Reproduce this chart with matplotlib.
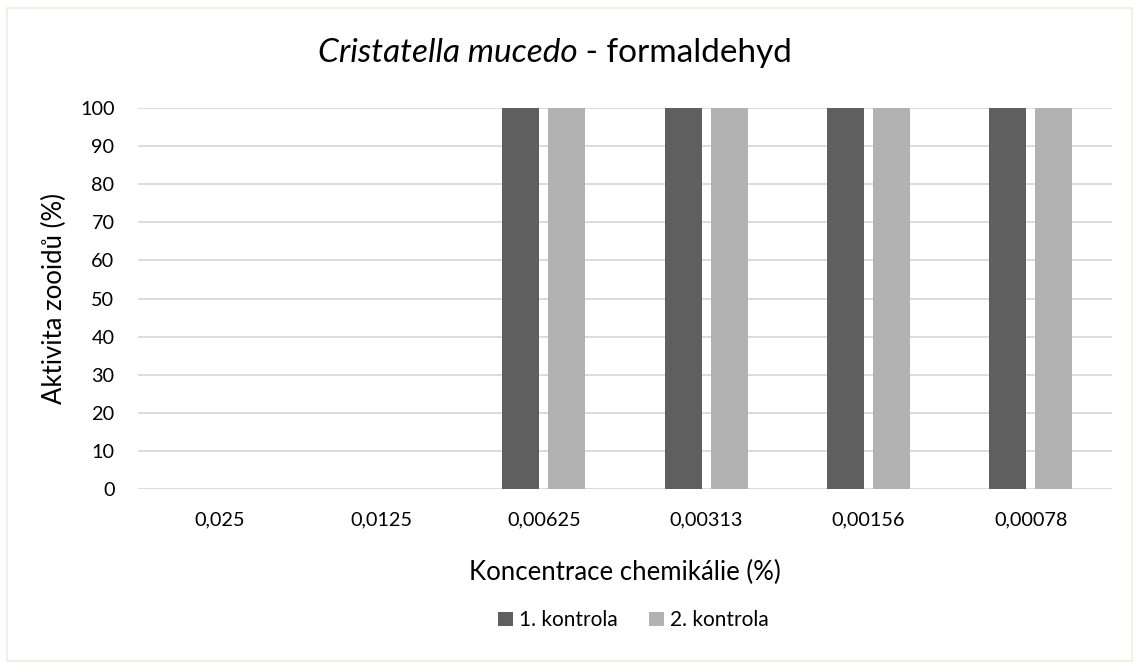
import matplotlib
matplotlib.use("Agg")
import matplotlib.pyplot as plt
from matplotlib.patches import Rectangle
import numpy as np

plt.rcParams['font.family'] = ['Lato', 'DejaVu Sans']

categories = ['0,025', '0,0125', '0,00625', '0,00313', '0,00156', '0,00078']
kontrola1 = [0, 0, 100, 100, 100, 100]
kontrola2 = [0, 0, 100, 100, 100, 100]

fig = plt.figure(figsize=(11.37, 6.64), dpi=100)
ax = fig.add_axes([0.1214, 0.2636, 0.8566, 0.5737])

# chart border
fig.patches.append(Rectangle((0.006, 0.004), 0.99, 0.984, transform=fig.transFigure,
                             fill=False, edgecolor='#eeede0', linewidth=1.2))

x = np.arange(len(categories))
w = 0.228
off = 0.142
ax.bar(x - off, kontrola1, w, color='#5f5f5f', label='1. kontrola', zorder=3)
ax.bar(x + off, kontrola2, w, color='#b2b2b2', label='2. kontrola', zorder=3)

ax.set_xlim(-0.5, len(categories) - 0.5)
ax.set_ylim(0, 100)
ax.set_yticks(range(0, 101, 10))
ax.set_xticks(x)
ax.set_xticklabels(categories)
ax.yaxis.grid(True, color='#d9d9d9', linewidth=1.3, zorder=0)
ax.set_axisbelow(True)
for s in ax.spines.values():
    s.set_visible(False)
ax.tick_params(length=0, labelsize=14.3, colors='black')
ax.tick_params(axis='y', pad=17)
ax.tick_params(axis='x', pad=16)

ax.set_xlabel('Koncentrace chemikálie (%)', fontsize=18.5, labelpad=23)
ax.set_ylabel('Aktivita zooidů (%)', fontsize=18.5, labelpad=9)

# title with italic species name
t1 = fig.text(0.5, 0.907, 'Cristatella mucedo', fontsize=24, style='italic', ha='left', va='baseline')
t2 = fig.text(0.5, 0.907, ' - formaldehyd', fontsize=24, ha='left', va='baseline')
fig.canvas.draw()
r = fig.canvas.get_renderer()
w1 = t1.get_window_extent(r).width / fig.bbox.width
w2 = t2.get_window_extent(r).width / fig.bbox.width
x0 = 0.488 - (w1 + w2) / 2
t1.set_x(x0)
t2.set_x(x0 + w1)

fig.legend(loc='center', bbox_to_anchor=(0.557, 0.066), ncol=2, frameon=False,
           fontsize=15, handlelength=0.7, handleheight=0.7, handletextpad=0.3,
           columnspacing=1.5)

fig.savefig('out.png', dpi=100)
